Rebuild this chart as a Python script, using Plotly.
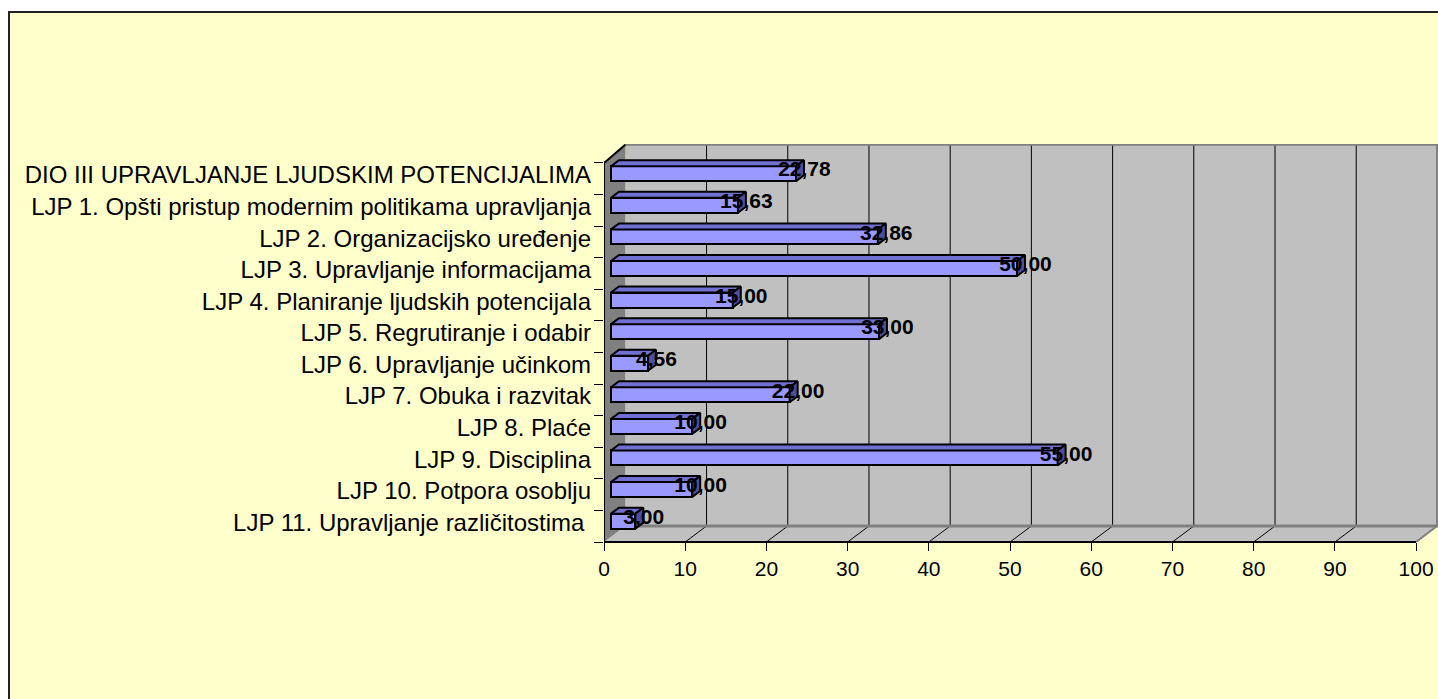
import plotly.graph_objects as go

# ---- data -------------------------------------------------------------
categories = [
    "DIO III UPRAVLJANJE LJUDSKIM POTENCIJALIMA",
    "LJP 1. Opšti pristup modernim politikama upravljanja",
    "LJP 2. Organizacijsko uređenje",
    "LJP 3. Upravljanje informacijama",
    "LJP 4. Planiranje ljudskih potencijala",
    "LJP 5. Regrutiranje i odabir",
    "LJP 6. Upravljanje učinkom",
    "LJP 7. Obuka i razvitak",
    "LJP 8. Plaće",
    "LJP 9. Disciplina",
    "LJP 10. Potpora osoblju",
    "LJP 11. Upravljanje različitostima\u00a0",
]
values = [22.78, 15.63, 32.86, 50.00, 15.00, 33.00, 4.56, 22.00, 10.00, 55.00, 10.00, 3.00]
x_ticks = [0, 10, 20, 30, 40, 50, 60, 70, 80, 90, 100]

# ---- geometry of the pseudo-3D box (axis units) -------------------------
W, H = 1438, 699
ML, MR, MT, MB = 604, 0, 144, 157
X_MAX = 102.7
Y_LO, Y_HI = -0.68, 11.92
DX, DY = 2.63, 0.506          # depth of the box
BX, BY = 0.86, 0.16           # bar front face offset from the front plane
BDX, BDY = 0.985, 0.19        # bar depth
BH = 0.237                    # half height of the bar front face

n = len(categories)
k = [n - 1 - i for i in range(n)]                 # top category highest
band_c = [Y_LO + 0.5 + kk for kk in k]            # front-plane band centres
bar_c = [c + BY for c in band_c]                  # bar front-face centres
label_y = [c + 0.12 for c in band_c]              # category label anchors
y_front_top = Y_LO + n

FRONT = "#9999FF"
TOP = "#7070D2"
SIDE = "#4E4E9C"
WALL = "#C0C0C0"
DARK = "#808080"
FONT = "Liberation Sans, Arial, sans-serif"

fig = go.Figure()

# front faces of the bars
fig.add_trace(go.Bar(
    orientation="h", y=bar_c, x=values, base=BX, width=2 * BH,
    marker=dict(color=FRONT, line=dict(color="black", width=2)),
    hoverinfo="skip", showlegend=False,
))

# top and right faces of the bars
tx, ty, sx, sy = [], [], [], []
for v, c in zip(values, bar_c):
    x0, x1 = BX, BX + v
    tx += [x0, x1, x1 + BDX, x0 + BDX, x0, None]
    ty += [c + BH, c + BH, c + BH + BDY, c + BH + BDY, c + BH, None]
    sx += [x1, x1 + BDX, x1 + BDX, x1, x1, None]
    sy += [c - BH, c - BH + BDY, c + BH + BDY, c + BH, c - BH, None]
fig.add_trace(go.Scatter(x=tx, y=ty, mode="lines", fill="toself", fillcolor=TOP,
                         line=dict(color="black", width=2), hoverinfo="skip", showlegend=False))
fig.add_trace(go.Scatter(x=sx, y=sy, mode="lines", fill="toself", fillcolor=SIDE,
                         line=dict(color="black", width=2), hoverinfo="skip", showlegend=False))

# value labels
fig.add_trace(go.Scatter(
    x=[v + 1.9 for v in values], y=[c + 0.08 for c in bar_c], mode="text",
    text=[f"{v:.2f}".replace(".", ",") for v in values],
    textposition="middle center",
    textfont=dict(family=FONT, size=21, color="black", weight="bold"),
    cliponaxis=False, hoverinfo="skip", showlegend=False,
))

shapes = []
ph = H - MT - MB
pw = W - ML - MR
# chart area background
shapes.append(dict(type="rect", xref="paper", yref="paper", layer="below",
                   x0=(9 - ML) / pw, x1=1.05, y0=-0.6, y1=(H - MB - 12) / ph,
                   fillcolor="#FFFFCC", line=dict(color="#222222", width=2)))


def poly(pts):
    return "M " + " L ".join(f"{x},{y}" for x, y in pts) + " Z"


# back wall
shapes.append(dict(type="path", xref="x", yref="y", layer="below",
                   path=poly([(DX, Y_LO + DY), (100 + DX, Y_LO + DY), (100 + DX, Y_HI), (DX, Y_HI)]),
                   fillcolor=WALL, line=dict(width=0)))
# floor
shapes.append(dict(type="path", xref="x", yref="y", layer="below",
                   path=poly([(0, Y_LO), (100, Y_LO), (100 + DX, Y_LO + DY), (DX, Y_LO + DY)]),
                   fillcolor=WALL, line=dict(width=0)))
# left wall
shapes.append(dict(type="path", xref="x", yref="y", layer="below",
                   path=poly([(0, Y_LO), (DX, Y_LO + DY), (DX, Y_HI), (0, y_front_top)]),
                   fillcolor=DARK, line=dict(width=0)))
# grid lines on the back wall and their traces on the floor
for t in x_ticks[1:-1]:
    shapes.append(dict(type="line", xref="x", yref="y", layer="below",
                       x0=t + DX, x1=t + DX, y0=Y_LO + DY, y1=Y_HI,
                       line=dict(color="black", width=1)))
    shapes.append(dict(type="line", xref="x", yref="y", layer="below",
                       x0=t, x1=t + DX, y0=Y_LO, y1=Y_LO + DY,
                       line=dict(color="black", width=1)))
# outer edges of wall and floor
shapes.append(dict(type="path", xref="x", yref="y", layer="below",
                   path=f"M {DX},{Y_HI - 0.02} L {100 + DX - 0.05},{Y_HI - 0.02} "
                        f"L {100 + DX - 0.05},{Y_LO + DY} L {100},{Y_LO}",
                   line=dict(color=DARK, width=2)))
shapes.append(dict(type="line", xref="x", yref="y", layer="below",
                   x0=DX, x1=100 + DX, y0=Y_LO + DY, y1=Y_LO + DY,
                   line=dict(color=DARK, width=3)))
# front edges in black
shapes.append(dict(type="line", xref="x", yref="paper", layer="above",
                   x0=0, x1=100, y0=0, y1=0, line=dict(color="black", width=2)))
shapes.append(dict(type="path", xref="x", yref="y", layer="above",
                   path=f"M 0,{Y_LO} L 0,{y_front_top} L {DX},{Y_HI - 0.02}",
                   line=dict(color="black", width=2)))

fig.update_layout(
    width=W, height=H,
    margin=dict(l=ML, r=MR, t=MT, b=MB),
    paper_bgcolor="white", plot_bgcolor="rgba(0,0,0,0)",
    shapes=shapes, bargap=0,
    font=dict(family=FONT, color="black"),
    xaxis=dict(range=[0, X_MAX], tickvals=x_ticks, ticktext=[str(t) for t in x_ticks],
               ticks="outside", ticklen=8, tickcolor="black", tickwidth=1,
               showgrid=False, zeroline=False, showline=False,
               tickfont=dict(family=FONT, size=21, color="black")),
    yaxis=dict(range=[Y_LO, Y_HI], tickvals=label_y, ticktext=categories,
               ticks="", showgrid=False, zeroline=False, showline=False,
               ticklabelstandoff=12,
               tickfont=dict(family=FONT, size=24, color="black"),
               minor=dict(tickvals=[Y_LO + i for i in range(n + 1)], ticks="outside",
                          ticklen=9, tickcolor="black", tickwidth=1, showgrid=False)),
)

fig.write_html("out.html")
